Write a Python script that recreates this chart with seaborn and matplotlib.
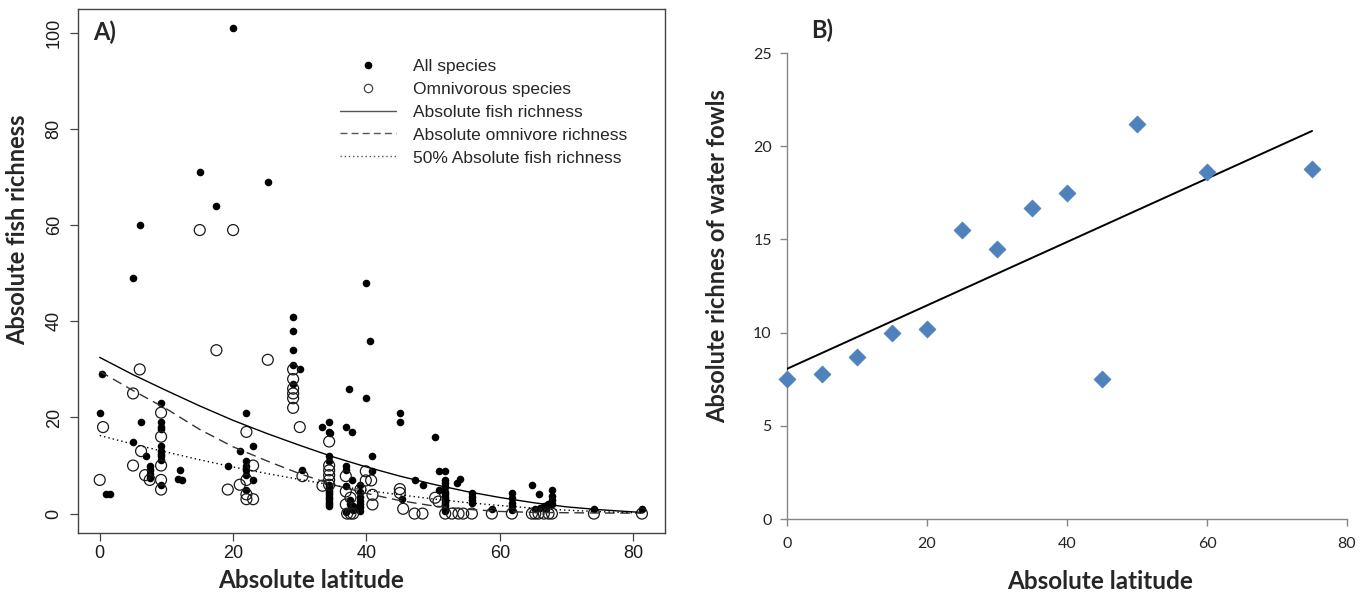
import numpy as np
import pandas as pd
import matplotlib
matplotlib.use("Agg")
import matplotlib.pyplot as plt
import seaborn as sns
from matplotlib.lines import Line2D

# ---------------- Panel A data ----------------
all_lat = [0, 0.4, 1.0, 1.6, 5, 5, 6, 6.2, 7, 7.5, 7.5, 7.5, 7.5,
           9.2, 9.2, 9.2, 9.2, 9.2, 9.2, 9.2, 9.2, 9.2, 9.2,
           12, 11.8, 12.3, 15, 17.5, 19.2, 20, 21,
           22, 22, 22, 22, 22, 22, 23, 23, 25.2,
           29, 29, 29, 29, 29, 30, 30.3, 33.4,
           34.4, 34.4, 34.6, 34.4, 34.4, 34.4, 34.4, 34.4, 34.4, 34.4, 34.4, 34.4, 34.4, 34.4, 34.4,
           36.9, 37.9, 37.4, 40, 40, 40.6,
           36.9, 36.9, 36.9, 37.9, 37.5, 37.5, 38, 38, 37.7, 36.9,
           39.1, 39.1, 39.1, 39.1, 39.1, 39.1, 39.1,
           40.9, 40.9,
           45, 45, 45.3, 47.2, 48.4, 50.3,
           50.8, 51.8, 50.8, 51.8, 51.8, 51.8, 51.8, 51.8, 51.8, 51.8, 51.8, 51.8, 51.8, 51.8, 51.8,
           53.6, 54,
           55.8, 55.8, 55.8, 55.8, 58.8,
           61.8, 61.8, 61.8, 61.8, 61.8,
           64.8, 65.8, 67.8, 67.8, 67.8, 67.8, 65.3, 66, 66.6, 67.2, 66.9,
           74.1, 81.3]
all_rich = [21, 29, 4, 4, 49, 15, 60, 19, 12, 10, 9, 8.2, 7.5,
            23, 19, 18, 17.5, 14, 13, 12.5, 12, 11.2, 6,
            9, 7.2, 7, 71, 64, 10, 101, 13,
            21, 11, 10, 9, 8, 5, 14, 7, 69,
            41, 38, 34, 31, 27, 30, 9, 18,
            19, 17, 16.8, 12, 11, 6, 5.5, 5, 4.5, 4, 3.5, 3, 2.5, 2, 1.5,
            18, 17, 26, 48, 24, 36,
            10, 9.1, 5.8, 6.9, 2.9, 2.0, 1.5, 0.8, 1.2, 0.4,
            6, 4.4, 3.5, 2.7, 2, 1.3, 0.5,
            11.9, 8.8,
            21, 19, 3, 6.9, 6, 16,
            8.9, 8.9, 5, 7, 6.4, 5.5, 4.4, 4, 3.5, 3, 2.5, 2, 1.5, 1, 0.5,
            6.4, 7.1,
            4.3, 3.5, 2.8, 2.1, 1,
            4.2, 3.3, 2.3, 1.5, 0.7,
            6, 4, 5, 3.6, 2.8, 1.9, 1, 1.2, 1.5, 2, 1,
            1, 1]

omn_lat = [0, 0.5, 5, 5, 6, 6.2, 6.8, 7.5, 9.2, 9.2, 9.2, 9.2, 9.2,
           15, 17.5, 19.2, 20, 21, 22, 22, 22, 22, 23, 23, 25.2,
           29, 29, 29, 29, 29, 29, 30, 30.4, 33.4,
           34.4, 34.4, 34.4, 34.4, 34.4, 34.4,
           36.9, 36.9, 36.9, 37.1, 37.6, 38, 37.6, 39.1, 39.9, 39.9, 40.7, 40.9, 40.9,
           45, 45, 45.5, 47.2, 48.4, 50.3, 50.8,
           51.8, 52.8, 53.8, 54.5, 55.8, 58.8, 61.8, 64.8, 65.3, 65.8, 66.6, 67.3, 67.8, 74.1, 81.3]
omn_rich = [7, 18, 25, 10, 30, 13, 8, 7, 21, 16, 10, 7, 5,
            59, 34, 5, 59, 6, 17, 7, 4, 3, 10, 3, 32,
            30, 28, 26, 25, 24, 22, 18, 7.8, 5.8,
            15, 10, 9, 8, 7, 6,
            7.8, 4.6, 1.9, 0, 0, 0, 3.3, 5, 8.8, 6.9, 6.9, 3.9, 1.9,
            5.1, 4.3, 1, 0, 0, 3.3, 2.5,
            0, 0, 0, 0, 0, 0, 0, 0, 0, 0, 0, 0, 0, 0, 0]

# fitted curves
curve_lat = [0, 5, 10, 15, 20, 25, 30, 35, 40, 45, 50, 55, 60, 65, 70, 75, 80, 81.5]
fish_fit = [32.5, 28.9, 25.6, 22.4, 19.4, 16.7, 14.2, 11.8, 9.7, 7.8, 6.1, 4.6, 3.35, 2.27, 1.40, 0.80, 0.35, 0.25]
omni_fit = [29.6, 25.6, 21.8, 17.5, 13.9, 11.0, 8.3, 6.0, 4.2, 2.7, 1.6, 0.9, 0.45, 0.25, 0.18, 0.12, 0.1, 0.1]
half_fit = [16.25, 14.45, 12.8, 11.2, 9.7, 8.35, 7.1, 5.9, 4.85, 3.9, 3.05, 2.3, 1.68, 1.13, 0.7, 0.4, 0.18, 0.12]

a_xticks = [0, 20, 40, 60, 80]
a_yticks = [0, 20, 40, 60, 80, 100]
legend_labels = ["All species", "Omnivorous species", "Absolute fish richness",
                 "Absolute omnivore richness", "50% Absolute fish richness"]

# ---------------- Panel B data ----------------
wf_lat = [0, 5, 10, 15, 20, 25, 30, 35, 40, 45, 50, 60, 75]
wf_rich = [7.5, 7.8, 8.7, 10.0, 10.2, 15.5, 14.5, 16.7, 17.5, 7.5, 21.2, 18.6, 18.8]
b_xticks = [0, 20, 40, 60, 80]
b_yticks = [0, 5, 10, 15, 20, 25]

sns.set_style("white")
plt.rcParams['font.family'] = ['Liberation Sans', 'DejaVu Sans']

fig = plt.figure(figsize=(13.63, 6.01), dpi=100)
axA = fig.add_axes([0.0572, 1 - 533 / 601, 0.4307, (533 - 8.8) / 601])
axB = fig.add_axes([0.5774, 0.1364, 0.4109, 0.7754])

# ---------- Panel A ----------
sns.scatterplot(x=all_lat, y=all_rich, ax=axA, color='black', s=30,
                linewidth=0, marker='o', legend=False, zorder=3)
sns.scatterplot(x=omn_lat, y=omn_rich, ax=axA, facecolor='none', edgecolor='#1a1a1a',
                s=62, linewidth=0.9, marker='o', legend=False, zorder=4)
sns.lineplot(x=curve_lat, y=fish_fit, ax=axA, color='black', linewidth=1.0, zorder=5)
sns.lineplot(x=curve_lat, y=omni_fit, ax=axA, color='#333333', linewidth=1.0,
             linestyle=(0, (7, 4)), zorder=5)
sns.lineplot(x=curve_lat, y=half_fit, ax=axA, color='black', linewidth=1.0,
             linestyle=(0, (1, 2.2)), zorder=5)

axA.set_xlim(-3.26, 84.76)
axA.set_ylim(-4.04, 105.04)
axA.set_xticks(a_xticks)
axA.set_yticks(a_yticks)
axA.tick_params(axis='both', direction='out', length=6, width=0.9, color='#444444',
                labelsize=13, labelcolor='#1a1a1a', left=True, bottom=True, pad=3)
axA.tick_params(axis='y', labelrotation=90, pad=5)
for lab in axA.get_yticklabels():
    lab.set_verticalalignment('center')
for sp in axA.spines.values():
    sp.set_visible(True)
    sp.set_color('#444444')
    sp.set_linewidth(1.0)
axA.set_xlabel("Absolute latitude", fontsize=17.5, fontweight='bold', family='Lato')
axA.set_ylabel("Absolute fish richness", fontsize=17, fontweight='bold', family='Lato')
axA.xaxis.set_label_coords((311 - 78) / 587, (533 - 581) / 524.2)
axA.yaxis.set_label_coords((18 - 78) / 587, (533 - 230) / 524.2)
axA.xaxis.label.set_va('center')
axA.yaxis.label.set_va('center')
axA.text(0.025, 0.955, "A)", transform=axA.transAxes, fontsize=17, fontweight='bold',
         family='Lato', ha='left', va='center')

handles = [
    Line2D([], [], linestyle='none', marker='o', markersize=4.5, color='black'),
    Line2D([], [], linestyle='none', marker='o', markersize=6, markerfacecolor='none',
           markeredgecolor='#444444', markeredgewidth=0.9),
    Line2D([], [], color='#555555', linewidth=1.0),
    Line2D([], [], color='#555555', linewidth=1.0, linestyle=(0, (5, 3))),
    Line2D([], [], color='#555555', linewidth=1.0, linestyle=(0, (1, 2))),
]
axA.legend(handles, legend_labels, loc='upper left', bbox_to_anchor=(0.42, 0.935),
           frameon=False, fontsize=12.5, handlelength=3.2, handletextpad=1.0,
           labelspacing=0.45)

# ---------- Panel B ----------
sns.scatterplot(x=wf_lat, y=wf_rich, ax=axB, marker='D', color='#4F81BD',
                edgecolor='#4F81BD', s=75, linewidth=0.5, legend=False, zorder=4, clip_on=False)
sns.regplot(x=np.array(wf_lat, dtype=float), y=np.array(wf_rich, dtype=float), ax=axB,
            scatter=False, ci=None, color='black', line_kws={'linewidth': 1.4, 'zorder': 3})
axB.set_xlim(0, 80)
axB.set_ylim(0, 25)
axB.set_xticks(b_xticks)
axB.set_yticks(b_yticks)
sns.despine(ax=axB)
for side in ['left', 'bottom']:
    axB.spines[side].set_color('#868686')
    axB.spines[side].set_linewidth(1.0)
axB.tick_params(axis='both', direction='out', length=5, width=1.0, color='#868686',
                labelsize=11.5, labelcolor='#262626', left=True, bottom=True)
for lab in axB.get_xticklabels() + axB.get_yticklabels():
    lab.set_family('Lato')
axB.tick_params(axis='x', pad=8)
axB.tick_params(axis='y', pad=6)
axB.set_xlabel("Absolute latitude", fontsize=17.5, fontweight='bold', family='Lato')
axB.set_ylabel("Absolute richnes of water fowls", fontsize=17, fontweight='bold', family='Lato')
axB.xaxis.set_label_coords((1100 - 787) / 560, (519 - 581) / 466)
axB.yaxis.set_label_coords((718 - 787) / 560, (519 - 256) / 466)
axB.xaxis.label.set_va('center')
axB.yaxis.label.set_va('center')
fig.text(822 / 1363, 1 - 30 / 601, "B)", fontsize=17, fontweight='bold', family='Lato',
         ha='center', va='center')

fig.savefig("out.png", dpi=100)
